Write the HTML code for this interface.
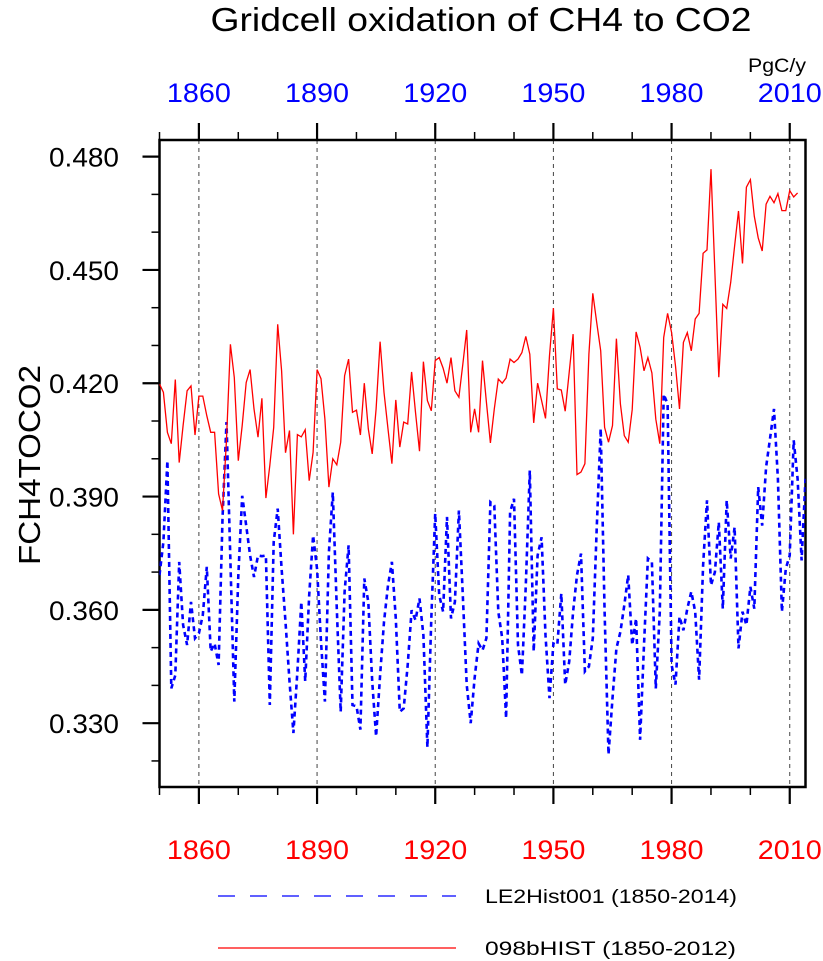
<!DOCTYPE html>
<html><head><meta charset="utf-8"><style>
html,body{margin:0;padding:0;background:#fff;}
svg{display:block;font-family:"Liberation Sans",sans-serif;}
</style></head><body>
<svg id="chart" width="823" height="961" viewBox="0 0 823 961" xmlns="http://www.w3.org/2000/svg">
<text x="481" y="31" font-size="33" text-anchor="middle" textLength="541" lengthAdjust="spacingAndGlyphs">Gridcell oxidation of CH4 to CO2</text>
<text x="777" y="72" font-size="19" text-anchor="middle" textLength="58" lengthAdjust="spacingAndGlyphs">PgC/y</text>
<text x="0" y="0" font-size="31" text-anchor="middle" textLength="200" lengthAdjust="spacingAndGlyphs" transform="translate(40,465) rotate(-90)">FCH4TOCO2</text>
<g id="grid"></g>
<g id="axes"></g>
<g id="series"></g>
<g>
<line x1="218" y1="896" x2="456" y2="896" stroke="#0000ff" stroke-width="1.3" stroke-dasharray="17,15"/>
<text x="485" y="903" font-size="19" textLength="252" lengthAdjust="spacingAndGlyphs">LE2Hist001 (1850-2014)</text>
<line x1="218" y1="948" x2="456" y2="948" stroke="#ff0000" stroke-width="1.3"/>
<text x="485" y="955" font-size="19" textLength="251" lengthAdjust="spacingAndGlyphs">098bHIST (1850-2012)</text>
</g>
</svg>
<script>
const redStart = 1850;
const redValues = [
.4198,.4176,.407,.404,.421,.399,.4088,.418,.4193,.4063,
.4166,.4166,.4114,.407,.407,.3907,.3863,.405,.4303,.4215,
.3995,.4088,.4202,.4236,.4132,.4057,.416,.3896,.3982,.4083,
.4356,.4233,.4016,.4075,.380,.4064,.4058,.4077,.3942,.4017,
.4236,.4212,.4105,.3925,.40,.3984,.4044,.422,.4264,.4123,
.4129,.4063,.42,.4079,.4013,.4132,.431,.4176,.4079,.3987,
.4156,.4031,.4097,.4092,.423,.4123,.402,.4257,.4154,.4127,
.426,.4268,.424,.420,.4268,.418,.4163,.425,.4341,.407,
.4132,.407,.426,.415,.4042,.4132,.4211,.420,.4214,.4264,
.4255,.4264,.4281,.4324,.4277,.4095,.420,.4154,.4107,.4273,
.4399,.4185,.4182,.4126,.4229,.433,.3958,.3965,.3987,.4277,
.4438,.4361,.4286,.4083,.4044,.4088,.4318,.4145,.4061,.4044,
.413,.4336,.4295,.4233,.4268,.4227,.4105,.404,.4321,.4385,
.4334,.4246,.4132,.4308,.4334,.4286,.437,.4385,.4544,.4553,
.4767,.4493,.4216,.4409,.4398,.4467,.4563,.4656,.4517,.4719,
.4739,.4642,.4585,.455,.4674,.4695,.4678,.4702,.4657,.4657,
.471,.4693,.4704];
const blueStart = 1850;
const blueValues = [
.3692,.378,.3995,.3392,.3427,.3727,.356,.3507,.3621,.3525,
.3538,.3586,.3714,.349,.3511,.3454,.3841,.4097,.373,.3357,
.369,.3902,.3823,.3744,.3687,.3744,.3742,.3744,.3348,.378,
.3868,.3709,.3568,.3411,.3274,.3437,.3621,.3411,.3639,.3797,
.3707,.3516,.3357,.3753,.3911,.3603,.333,.3648,.3771,.3348,
.3345,.3283,.3683,.3621,.3411,.3265,.3427,.3568,.3665,.3727,
.3577,.333,.3339,.3454,.3599,.3573,.363,.3533,.3236,.3577,
.3855,.3639,.3595,.3846,.3577,.3621,.3863,.3639,.3402,.33,
.3419,.3511,.3493,.3525,.3885,.3876,.3595,.3525,.3313,.3859,
.3894,.3507,.3427,.3665,.3969,.349,.3744,.3792,.3533,.3366,
.3511,.3507,.3643,.3402,.3463,.3595,.3692,.3749,.3437,.345,
.3525,.3815,.408,.3595,.3217,.3366,.3498,.3542,.3612,.3692,
.3507,.3577,.3256,.3507,.3736,.3727,.3392,.3595,.4171,.4145,
.3454,.3402,.3582,.3546,.3603,.3648,.3595,.3415,.3718,.389,
.3665,.37,.3832,.3603,.389,.3736,.3819,.3498,.3595,.356,
.3661,.3603,.3925,.3823,.3978,.4053,.4132,.3947,.3595,.3709,
.3744,.4049,.3947,.3731,.3947];
const xTicks = [1860,1890,1920,1950,1980,2010];
const yTicks = [0.330,0.360,0.390,0.420,0.450,0.480];

const L=159.5,R=805.5,T=140,B=787;
const X0=1850,X1=2014,Y0=0.3131,Y1=0.4844;
function sx(v){return L+(v-X0)/(X1-X0)*(R-L);}
function sy(v){return B-(v-Y0)/(Y1-Y0)*(B-T);}
const NS="http://www.w3.org/2000/svg";
function mk(tag,attrs,parent){const e=document.createElementNS(NS,tag);for(const k in attrs)e.setAttribute(k,attrs[k]);parent.appendChild(e);return e;}
const grid=document.getElementById('grid'),axes=document.getElementById('axes'),series=document.getElementById('series');

xTicks.forEach(t=>{
  const g=mk('line',{x1:sx(t),x2:sx(t),y1:T,y2:B,stroke:'#444','stroke-width':1,'stroke-dasharray':'4,4'},grid);
  
  
});
for(let y=1850;y<=2010;y+=10){
  const major=xTicks.includes(y), len=major?17:8, x=sx(y);
  const tb=mk('line',{x1:x,x2:x,y1:B,y2:B+len,stroke:'#000','stroke-width':major?2.2:1.5},axes);
  
  
  const tt=mk('line',{x1:x,x2:x,y1:T,y2:T-len,stroke:'#000','stroke-width':major?2.2:1.5},axes);
  
  
}
xTicks.forEach(t=>{
  const a=mk('text',{x:sx(t),y:859,'font-size':27,'text-anchor':'middle',fill:'#ff0000',textLength:64,lengthAdjust:'spacingAndGlyphs'},axes);a.textContent=t;
  
  
  const b=mk('text',{x:sx(t),y:102,'font-size':27,'text-anchor':'middle',fill:'#0000ff',textLength:64,lengthAdjust:'spacingAndGlyphs'},axes);b.textContent=t;
  
  
});
for(let i=32;i<=48;i++){
  const v=i/100, major=(i%3===0), len=major?17:8, y=sy(v);
  const tk=mk('line',{x1:L-len,x2:L,y1:y,y2:y,stroke:'#000','stroke-width':major?2.2:1.5},axes);
  
  
}
yTicks.forEach(t=>{
  const a=mk('text',{x:119,y:sy(t)+10,'font-size':27,'text-anchor':'end',textLength:70,lengthAdjust:'spacingAndGlyphs'},axes);a.textContent=t.toFixed(3);
  
  
});
const frame=mk('rect',{x:L,y:T,width:R-L,height:B-T,fill:'none',stroke:'#000','stroke-width':2.5},axes);



const clip=mk('clipPath',{id:'pc'},document.getElementById('chart'));
mk('rect',{x:L,y:T,width:R-L,height:B-T},clip);

const bp=blueValues.map((v,i)=>sx(blueStart+i).toFixed(1)+','+sy(v).toFixed(1)).join(' ');
const blue=mk('polyline',{points:bp,fill:'none',stroke:'#0000ff','stroke-width':2.6,'stroke-dasharray':'5,4','clip-path':'url(#pc)'},series);


const rp=redValues.map((v,i)=>sx(redStart+i).toFixed(1)+','+sy(v).toFixed(1)).join(' ');
const red=mk('polyline',{points:rp,fill:'none',stroke:'#ff0000','stroke-width':1.3,'clip-path':'url(#pc)'},series);


</script>
</body></html>
